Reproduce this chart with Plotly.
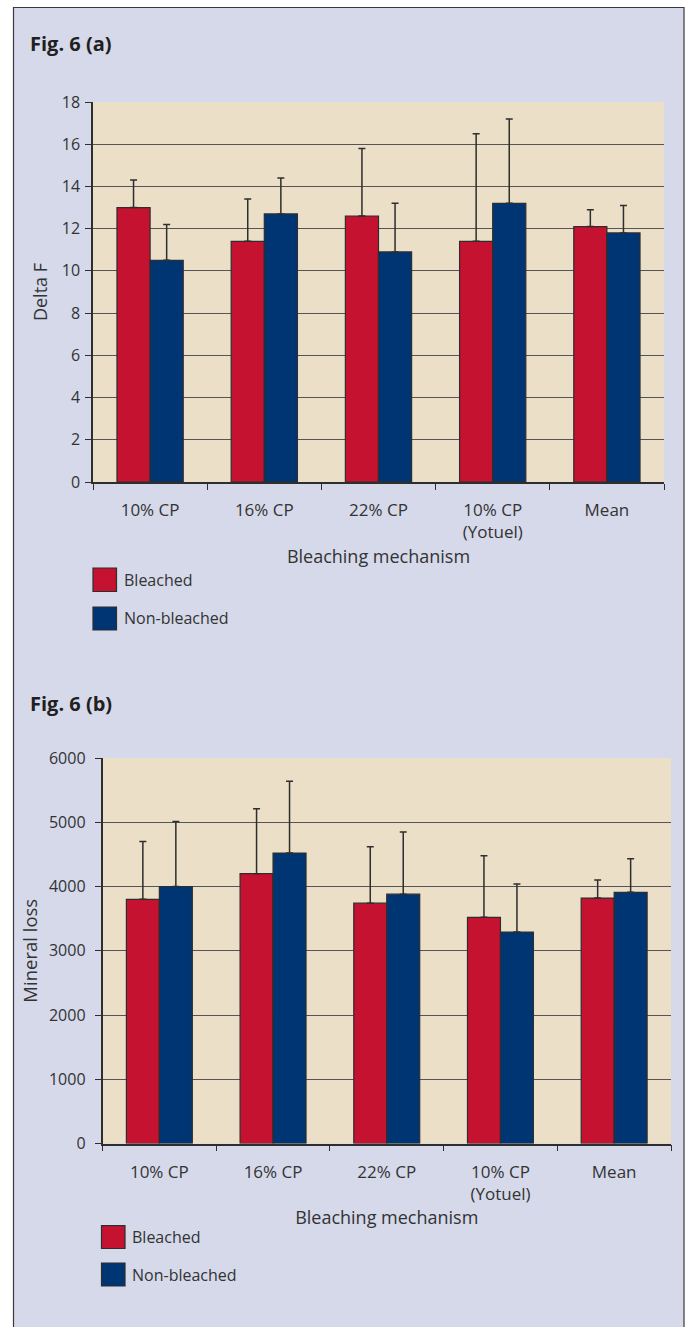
import plotly.graph_objects as go

# ---- data ----
categories = ["10% CP", "16% CP", "22% CP", "10% CP<br>(Yotuel)", "Mean"]
series_names = ["Bleached", "Non-bleached"]

# Fig. 6 (a): Delta F
delta_f_bleached = [13.0, 11.4, 12.6, 11.4, 12.1]
delta_f_bleached_sd = [1.3, 2.0, 3.2, 5.1, 0.8]
delta_f_nonbleached = [10.5, 12.7, 10.9, 13.2, 11.8]
delta_f_nonbleached_sd = [1.7, 1.7, 2.3, 4.0, 1.3]
delta_f_ticks = [0, 2, 4, 6, 8, 10, 12, 14, 16, 18]

# Fig. 6 (b): Mineral loss
mineral_bleached = [3800, 4200, 3740, 3520, 3820]
mineral_bleached_sd = [900, 1010, 880, 960, 280]
mineral_nonbleached = [4000, 4520, 3880, 3290, 3910]
mineral_nonbleached_sd = [1010, 1120, 970, 750, 520]
mineral_ticks = [0, 1000, 2000, 3000, 4000, 5000, 6000]

# ---- styling ----
W, H = 688, 1327
RED = "#C41230"
BLUE = "#003574"
PANEL_BG = "#D5D9EA"
PLOT_BG = "#EBDFC8"
INK = "#2e2e2e"
FONT = "Open Sans, Noto Sans, sans-serif"
colors = [RED, BLUE]


def px(x):
    return x / W


def py(y):
    return 1 - y / H


fig = go.Figure()

panels = [
    ("x", "y", [delta_f_bleached, delta_f_nonbleached],
     [delta_f_bleached_sd, delta_f_nonbleached_sd]),
    ("x2", "y2", [mineral_bleached, mineral_nonbleached],
     [mineral_bleached_sd, mineral_nonbleached_sd]),
]

for xa, ya, values, sds in panels:
    for name, color, vals, sd in zip(series_names, colors, values, sds):
        fig.add_trace(go.Bar(
            x=categories, y=vals, name=name, xaxis=xa, yaxis=ya,
            marker=dict(color=color, line=dict(color=INK, width=1.2)),
            error_y=dict(type="data", symmetric=False, array=sd,
                         arrayminus=[0] * len(sd), color=INK,
                         thickness=1.5, width=3.5),
            showlegend=False,
        ))

xaxis_common = dict(
    type="category", showline=True, linecolor=INK, linewidth=1.5,
    ticks="outside", tickson="boundaries", ticklen=6, tickcolor=INK,
    tickwidth=1.2, tickfont=dict(family=FONT, size=17, color="#333"),
    showgrid=False, zeroline=False, ticklabelstandoff=12, automargin=False,
)
yaxis_common = dict(
    showline=True, linecolor=INK, linewidth=1.5, ticks="outside",
    ticklen=6, tickcolor=INK, tickwidth=1.2,
    tickfont=dict(family=FONT, size=16, color="#333"),
    showgrid=True, gridcolor="#555555", gridwidth=1.2, zeroline=False,
    automargin=False,
)

fig.update_layout(
    width=W, height=H,
    margin=dict(l=0, r=0, t=0, b=0, autoexpand=False),
    paper_bgcolor=PANEL_BG, plot_bgcolor=PLOT_BG,
    barmode="group", bargap=0.42, bargroupgap=0.0,
    font=dict(family=FONT, color="#333"),
    xaxis=dict(xaxis_common, domain=[px(93), px(664)], anchor="y",
               title=dict(text="Bleaching mechanism",
                          font=dict(family=FONT, size=18, color="#333"),
                          standoff=8)),
    yaxis=dict(yaxis_common, domain=[py(482), py(102)], anchor="x",
               range=[0, 18], tickvals=delta_f_ticks, ticklabelstandoff=2,
               title=dict(text="Delta F",
                          font=dict(family=FONT, size=18, color="#333"),
                          standoff=9)),
    xaxis2=dict(xaxis_common, domain=[px(102.5), px(671)], anchor="y2",
                title=dict(text="Bleaching mechanism",
                           font=dict(family=FONT, size=18, color="#333"),
                           standoff=0)),
    yaxis2=dict(yaxis_common, domain=[py(1143.5), py(758)], anchor="x2",
                range=[0, 6000], tickvals=mineral_ticks, ticklabelstandoff=6,
                title=dict(text="Mineral loss",
                           font=dict(family=FONT, size=18.5, color="#333"),
                           standoff=6)),
)

shapes = []
annotations = []

# white surround outside the figure frame, then the frame itself
for x0, y0, x1, y1 in [(0, 0, 13, H), (684, 0, W, H), (0, 0, W, 7)]:
    shapes.append(dict(type="rect", xref="paper", yref="paper",
                       x0=px(x0), x1=px(x1), y0=py(y1), y1=py(y0),
                       fillcolor="white", line=dict(width=0), layer="above"))
shapes.append(dict(type="rect", xref="paper", yref="paper",
                   x0=px(13.5), x1=px(684), y0=py(H + 5), y1=py(7.5),
                   line=dict(color="#3a3a3a", width=1.2), layer="above"))

# panel titles
for label, ty in [("Fig. 6 (a)", 43), ("Fig. 6 (b)", 703)]:
    annotations.append(dict(
        text="<b>%s</b>" % label, xref="paper", yref="paper",
        x=px(28), y=py(ty), xanchor="left", yanchor="middle",
        showarrow=False, font=dict(family=FONT, size=20, color="#231F20")))

# legend keys below each panel
legend_layout = [
    (93, [(568, 591.5), (607, 630)], 121.5),
    (101.5, [(1225.7, 1248.5), (1263, 1286)], 130),
]
for x0, rows, tx in legend_layout:
    for name, color, (y0, y1) in zip(series_names, colors, rows):
        shapes.append(dict(type="rect", xref="paper", yref="paper",
                           x0=px(x0), x1=px(x0 + 23.5), y0=py(y1), y1=py(y0),
                           fillcolor=color, line=dict(color=INK, width=1.2)))
        annotations.append(dict(
            text=name, xref="paper", yref="paper",
            x=px(tx), y=py((y0 + y1) / 2), xanchor="left", yanchor="middle",
            showarrow=False, font=dict(family=FONT, size=16, color="#333")))

fig.update_layout(shapes=shapes, annotations=annotations)

fig.write_html("out.html")
